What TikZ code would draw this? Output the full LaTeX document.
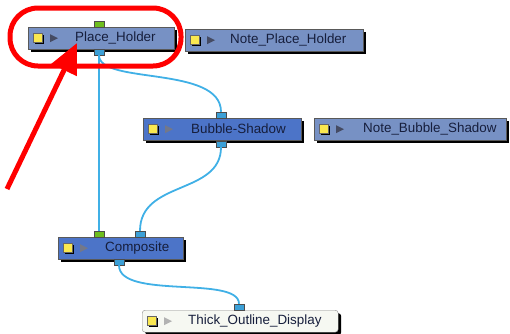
\documentclass[tikz,border=0pt]{standalone}
\usepackage{fontspec}
\setmainfont{Liberation Sans}
\usepackage{tikz}
\usetikzlibrary{arrows,arrows.meta,positioning,shadows}

\definecolor{grayblue}{RGB}{119,145,196}
\definecolor{deepblue}{RGB}{76,116,200}
\definecolor{paleface}{RGB}{246,248,242}
\definecolor{wireblue}{RGB}{64,176,230}
\definecolor{portblue}{RGB}{60,160,215}
\definecolor{portgreen}{RGB}{110,190,30}
\definecolor{iconyellow}{RGB}{250,232,80}
\definecolor{navytext}{RGB}{22,30,60}
\definecolor{markred}{RGB}{255,0,0}

\tikzset{
  modbox/.style={draw=black!65, fill=#1, rectangle, anchor=north west, inner sep=0pt,
    minimum height=22pt, align=left, text=navytext, font=\fontsize{13.4}{15}\selectfont,
    drop shadow={shadow xshift=3pt, shadow yshift=-3pt, fill=black, opacity=1}},
  inport/.style={draw=black!70, fill=portgreen, rectangle, inner sep=0pt,
    minimum width=10pt, minimum height=6pt},
  outport/.style={draw=black!70, fill=portblue, rectangle, inner sep=0pt,
    minimum width=10pt, minimum height=6pt},
  wire/.style={wireblue, line width=1.8pt},
  redmark/.style={markred, line width=5pt},
}

% yellow square and play triangle at the left of a module
\newcommand{\modicons}[2]{%
  \fill[black] ([shift={(7pt,-6pt)}]#1.west) rectangle +(9pt,9pt);
  \filldraw[draw=black!60, fill=iconyellow] ([shift={(5pt,-4pt)}]#1.west) rectangle +(9pt,9pt);
  \fill[#2] ([shift={(22pt,-4pt)}]#1.west) -- ++(0pt,8pt) -- ++(8pt,-4pt) -- cycle;
}

\begin{document}
\begin{tikzpicture}[x=1pt,y=-1pt]
\useasboundingbox (0,0) rectangle (510,333);

% modules
\node[modbox=grayblue, text width=146pt] (PH) at (28,27) {\hspace*{47pt}Place\_Holder};
\node[modbox=grayblue, text width=178pt] (NPH) at (185,29) {\hspace*{45pt}Note\_Place\_Holder};
\node[modbox=deepblue, text width=158pt] (BS) at (143,118) {\hspace*{48pt}Bubble-Shadow};
\node[modbox=grayblue, text width=192pt] (NBS) at (314,118) {\hspace*{49pt}Note\_Bubble\_Shadow};
\node[modbox=deepblue, text width=125pt] (CP) at (58,237) {\hspace*{47pt}Composite};
\node[modbox=paleface, draw=black!45, rounded corners=3pt, text width=196pt] (TOD) at (142,310) {\hspace*{46pt}Thick\_Outline\_Display};

\modicons{PH}{navytext!80}
\modicons{NPH}{navytext!80}
\modicons{BS}{navytext!60}
\modicons{NBS}{navytext!80}
\modicons{CP}{navytext!60}
\modicons{TOD}{black!30}

% ports
\node[inport] (PHin) at (99,24) {};
\node[outport] (PHout) at (99,52) {};
\node[outport] (BSin) at (221,115) {};
\node[outport] (BSout) at (221,144) {};
\node[inport] (CPin1) at (99,234) {};
\node[outport] (CPin2) at (140,234) {};
\node[outport] (CPout) at (119,262) {};
\node[outport] (TODin) at (239,307) {};

% links
\draw[wire] (PHout.south) -- (CPin1.north);
\draw[wire] (PHout.south) .. controls (99,85) and (221,65) .. (BSin.north);
\draw[wire] (BSout.south) .. controls (221,195) and (140,180) .. (CPin2.north);
\draw[wire] (CPout.south) .. controls (119,300) and (239,275) .. (TODin.north);

% highlight
\draw[redmark, rounded corners=28pt] (10,8) rectangle (181,66);
\coordinate (ArrTail) at (7,189);
\coordinate (ArrTip) at (77,43);
\draw[redmark, -{Triangle[length=30pt,width=27pt]}] (ArrTail) -- (ArrTip);
\end{tikzpicture}
\end{document}
